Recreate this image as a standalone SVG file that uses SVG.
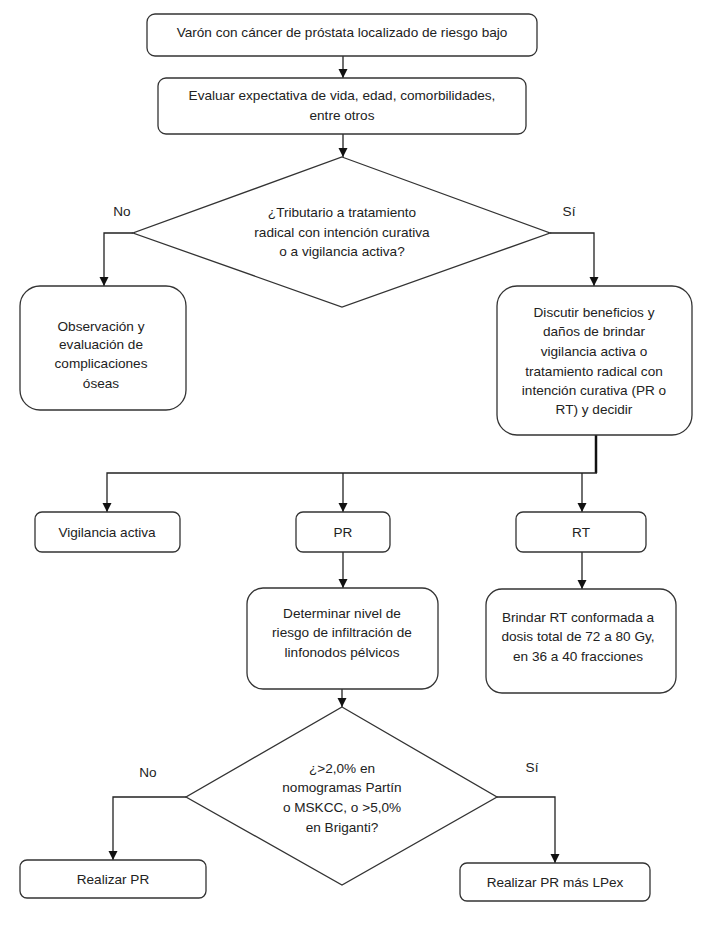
<svg xmlns="http://www.w3.org/2000/svg" width="709" height="935" viewBox="0 0 709 935">
<style>
.box{fill:#fff;stroke:#333;stroke-width:1.3}
.ln{fill:none;stroke:#222;stroke-width:1.3}
text{font-family:"Liberation Sans",Arial,sans-serif;font-size:13.6px;fill:#222;text-anchor:middle}
</style>
<defs>
<marker id="ah" markerWidth="10" markerHeight="10" refX="9" refY="5" orient="auto" markerUnits="userSpaceOnUse">
<path d="M0,0.5 L9,5 L0,9.5 Z" fill="#111"/>
</marker>
</defs>
<rect width="709" height="935" fill="#fff"/>
<g id="connectors">
<path class="ln" d="M343,56 V78" marker-end="url(#ah)"/>
<path class="ln" d="M343,134 V157" marker-end="url(#ah)"/>
<path class="ln" d="M133,233 H104 V286" marker-end="url(#ah)"/>
<path class="ln" d="M550,233 H594 V286" marker-end="url(#ah)"/>
<path fill="none" stroke="#111" stroke-width="2.5" d="M596,435 V473"/>
<path class="ln" d="M597,473 H107 V512" marker-end="url(#ah)"/>
<path class="ln" d="M343,473 V512" marker-end="url(#ah)"/>
<path class="ln" d="M582,473 V512" marker-end="url(#ah)"/>
<path class="ln" d="M343,552 V588" marker-end="url(#ah)"/>
<path class="ln" d="M582,552 V589" marker-end="url(#ah)"/>
<path class="ln" d="M342,689 V707" marker-end="url(#ah)"/>
<path class="ln" d="M186,797 H113 V860" marker-end="url(#ah)"/>
<path class="ln" d="M497,797 H555 V863" marker-end="url(#ah)"/>
<text x="122" y="216">No</text>
<text x="569" y="216">Sí</text>
<text x="148" y="777">No</text>
<text x="532" y="772">Sí</text>
</g>
<g id="n1">
<rect class="box" x="147" y="14" width="390" height="42" rx="8"/>
<text x="342" y="37">Varón con cáncer de próstata localizado de riesgo bajo</text>
</g>
<g id="n2">
<rect class="box" x="158" y="78" width="368" height="56" rx="8"/>
<text x="342" y="100">Evaluar expectativa de vida, edad, comorbilidades,</text>
<text x="342" y="120">entre otros</text>
</g>
<g id="d1">
<polygon class="box" points="342,157 550,233 342,307 133,233"/>
<text x="342" y="217">¿Tributario a tratamiento</text>
<text x="342" y="237">radical con intención curativa</text>
<text x="342" y="256">o a vigilancia activa?</text>
</g>
<g id="n3">
<rect class="box" x="20" y="286" width="166" height="124" rx="20"/>
<text x="101" y="331">Observación y</text>
<text x="101" y="349">evaluación de</text>
<text x="101" y="368">complicaciones</text>
<text x="101" y="388">óseas</text>
</g>
<g id="n4">
<rect class="box" x="497" y="286" width="195" height="149" rx="20"/>
<text x="594" y="317">Discutir beneficios y</text>
<text x="594" y="336">daños de brindar</text>
<text x="594" y="356">vigilancia activa o</text>
<text x="594" y="376">tratamiento radical con</text>
<text x="594" y="395">intención curativa (PR o</text>
<text x="594" y="414">RT) y decidir</text>
</g>
<g id="n5">
<rect class="box" x="35" y="512" width="145" height="40" rx="7"/>
<text x="107" y="537">Vigilancia activa</text>
</g>
<g id="n6">
<rect class="box" x="296" y="512" width="94" height="40" rx="7"/>
<text x="343" y="537">PR</text>
</g>
<g id="n7">
<rect class="box" x="516" y="512" width="130" height="40" rx="7"/>
<text x="581" y="537">RT</text>
</g>
<g id="n8">
<rect class="box" x="247" y="588" width="191" height="101" rx="16"/>
<text x="342" y="618">Determinar nivel de</text>
<text x="342" y="637">riesgo de infiltración de</text>
<text x="342" y="657">linfonodos pélvicos</text>
</g>
<g id="n9">
<rect class="box" x="486" y="589" width="190" height="104" rx="16"/>
<text x="578" y="622">Brindar RT conformada a</text>
<text x="578" y="641">dosis total de 72 a 80 Gy,</text>
<text x="578" y="661">en 36 a 40 fracciones</text>
</g>
<g id="d2">
<polygon class="box" points="342,707 497,797 342,885 186,797"/>
<text x="342" y="773">¿&gt;2,0% en</text>
<text x="342" y="792">nomogramas Partín</text>
<text x="342" y="812">o MSKCC, o &gt;5,0%</text>
<text x="342" y="832">en Briganti?</text>
</g>
<g id="n10">
<rect class="box" x="20" y="860" width="186" height="38" rx="7"/>
<text x="113" y="884">Realizar PR</text>
</g>
<g id="n11">
<rect class="box" x="460" y="863" width="190" height="38" rx="7"/>
<text x="555" y="887">Realizar PR más LPex</text>
</g>
</svg>
